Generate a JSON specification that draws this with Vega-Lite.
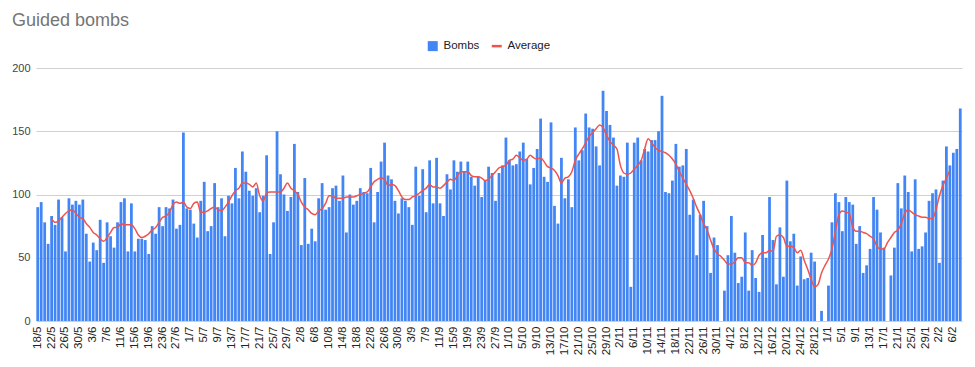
{
"$schema": "https://vega.github.io/schema/vega-lite/v6.json",
"width": 926, "height": 253,
"autosize": {"type": "none"},
"padding": {"left": 36, "top": 68, "right": 13, "bottom": 46},
"title": {"text": "Guided bombs", "anchor": "start", "frame": "group", "fontSize": 18, "fontWeight": "normal", "font": "Liberation Sans", "color": "#757575", "dx": -24, "offset": 10},
"config": {"view": {"stroke": null}, "font": "Liberation Sans"},
"data": {"values": [
{"d":"18/5","b":90},{"d":"19/5","b":94},{"d":"20/5","b":78},{"d":"21/5","b":61},
{"d":"22/5","b":83,"a":81},{"d":"23/5","b":76,"a":78},{"d":"24/5","b":96,"a":79},{"d":"25/5","b":82,"a":82},{"d":"26/5","b":55,"a":85},{"d":"27/5","b":97,"a":87},{"d":"28/5","b":92,"a":88},{"d":"29/5","b":95,"a":85},{"d":"30/5","b":92,"a":82},{"d":"31/5","b":96,"a":81},
{"d":"1/6","b":69,"a":77},{"d":"2/6","b":47,"a":74},{"d":"3/6","b":62,"a":70},{"d":"4/6","b":56,"a":68},{"d":"5/6","b":80,"a":65},{"d":"6/6","b":46,"a":63},{"d":"7/6","b":78,"a":66},{"d":"8/6","b":67,"a":70},{"d":"9/6","b":58,"a":74},{"d":"10/6","b":78,"a":74},
{"d":"11/6","b":94,"a":77},{"d":"12/6","b":97,"a":76},{"d":"13/6","b":55,"a":76},{"d":"14/6","b":93,"a":76},{"d":"15/6","b":55,"a":73},{"d":"16/6","b":65,"a":68},{"d":"17/6","b":65,"a":66},{"d":"18/6","b":64,"a":67},{"d":"19/6","b":53,"a":69},{"d":"20/6","b":75,"a":72},
{"d":"21/6","b":69,"a":74},{"d":"22/6","b":90,"a":78},{"d":"23/6","b":75,"a":82},{"d":"24/6","b":90,"a":83},{"d":"25/6","b":89,"a":86},{"d":"26/6","b":96,"a":92},{"d":"27/6","b":73,"a":94},{"d":"28/6","b":76,"a":93},{"d":"29/6","b":149,"a":94},{"d":"30/6","b":89,"a":90},
{"d":"1/7","b":88,"a":89},{"d":"2/7","b":77,"a":93},{"d":"3/7","b":66,"a":94},{"d":"4/7","b":95,"a":86},{"d":"5/7","b":110,"a":86},{"d":"6/7","b":71,"a":87},{"d":"7/7","b":75,"a":89},{"d":"8/7","b":109,"a":90},{"d":"9/7","b":90,"a":88},{"d":"10/7","b":97,"a":87},
{"d":"11/7","b":67,"a":90},{"d":"12/7","b":99,"a":94},{"d":"13/7","b":93,"a":99},{"d":"14/7","b":121,"a":103},{"d":"15/7","b":97,"a":105},{"d":"16/7","b":134,"a":109},{"d":"17/7","b":118,"a":109},{"d":"18/7","b":103,"a":108},{"d":"19/7","b":99,"a":106},{"d":"20/7","b":105,"a":109},
{"d":"21/7","b":86,"a":99},{"d":"22/7","b":99,"a":95},{"d":"23/7","b":131,"a":101},{"d":"24/7","b":53,"a":102},{"d":"25/7","b":78,"a":102},{"d":"26/7","b":150,"a":102},{"d":"27/7","b":116,"a":102},{"d":"28/7","b":100,"a":105},{"d":"29/7","b":87,"a":109},{"d":"30/7","b":98,"a":105},{"d":"31/7","b":140,"a":103},
{"d":"1/8","b":102,"a":100},{"d":"2/8","b":60,"a":94},{"d":"3/8","b":113,"a":90},{"d":"4/8","b":61,"a":88},{"d":"5/8","b":73,"a":85},{"d":"6/8","b":63,"a":84},{"d":"7/8","b":97,"a":87},{"d":"8/8","b":109,"a":89},{"d":"9/8","b":88,"a":93},{"d":"10/8","b":90,"a":99},
{"d":"11/8","b":105,"a":99},{"d":"12/8","b":107,"a":97},{"d":"13/8","b":95,"a":97},{"d":"14/8","b":115,"a":97},{"d":"15/8","b":70,"a":98},{"d":"16/8","b":100,"a":98},{"d":"17/8","b":92,"a":98},{"d":"18/8","b":95,"a":99},{"d":"19/8","b":105,"a":100},{"d":"20/8","b":102,"a":101},
{"d":"21/8","b":101,"a":102},{"d":"22/8","b":121,"a":106},{"d":"23/8","b":78,"a":110},{"d":"24/8","b":102,"a":112},{"d":"25/8","b":126,"a":113},{"d":"26/8","b":141,"a":112},{"d":"27/8","b":115,"a":107},{"d":"28/8","b":112,"a":108},{"d":"29/8","b":95,"a":107},{"d":"30/8","b":85,"a":103},{"d":"31/8","b":97,"a":98},
{"d":"1/9","b":95,"a":96},{"d":"2/9","b":90,"a":96},{"d":"3/9","b":76,"a":98},{"d":"4/9","b":122,"a":99},{"d":"5/9","b":99,"a":101},{"d":"6/9","b":120,"a":103},{"d":"7/9","b":86,"a":105},{"d":"8/9","b":127,"a":108},{"d":"9/9","b":93,"a":106},{"d":"10/9","b":129,"a":106},
{"d":"11/9","b":93,"a":105},{"d":"12/9","b":83,"a":107},{"d":"13/9","b":116,"a":110},{"d":"14/9","b":104,"a":112},{"d":"15/9","b":127,"a":111},{"d":"16/9","b":118,"a":115},{"d":"17/9","b":126,"a":118},{"d":"18/9","b":118,"a":118},{"d":"19/9","b":126,"a":118},{"d":"20/9","b":114,"a":115},
{"d":"21/9","b":107,"a":114},{"d":"22/9","b":114,"a":114},{"d":"23/9","b":98,"a":113},{"d":"24/9","b":111,"a":111},{"d":"25/9","b":122,"a":112},{"d":"26/9","b":117,"a":115},{"d":"27/9","b":95,"a":118},{"d":"28/9","b":117,"a":121},{"d":"29/9","b":123,"a":122},{"d":"30/9","b":145,"a":123},
{"d":"1/10","b":127,"a":127},{"d":"2/10","b":123,"a":128},{"d":"3/10","b":124,"a":131},{"d":"4/10","b":134,"a":129},{"d":"5/10","b":141,"a":127},{"d":"6/10","b":128,"a":128},{"d":"7/10","b":108,"a":131},{"d":"8/10","b":121,"a":129},{"d":"9/10","b":136,"a":128},{"d":"10/10","b":160,"a":129},
{"d":"11/10","b":114,"a":126},{"d":"12/10","b":110,"a":122},{"d":"13/10","b":157,"a":121},{"d":"14/10","b":91,"a":119},{"d":"15/10","b":77,"a":115},{"d":"16/10","b":129,"a":109},{"d":"17/10","b":97,"a":113},{"d":"18/10","b":112,"a":114},{"d":"19/10","b":90,"a":118},{"d":"20/10","b":153,"a":127},
{"d":"21/10","b":127,"a":132},{"d":"22/10","b":135,"a":136},{"d":"23/10","b":164,"a":141},{"d":"24/10","b":153,"a":146},{"d":"25/10","b":152,"a":149},{"d":"26/10","b":138,"a":152},{"d":"27/10","b":123,"a":155},{"d":"28/10","b":182,"a":153},{"d":"29/10","b":166,"a":147},{"d":"30/10","b":155,"a":142},{"d":"31/10","b":145,"a":139},
{"d":"1/11","b":107,"a":136},{"d":"2/11","b":115,"a":123},{"d":"3/11","b":114,"a":117},{"d":"4/11","b":141,"a":116},{"d":"5/11","b":27,"a":117},{"d":"6/11","b":141,"a":120},{"d":"7/11","b":145,"a":123},{"d":"8/11","b":127,"a":127},{"d":"9/11","b":136,"a":136},{"d":"10/11","b":134,"a":144},
{"d":"11/11","b":143,"a":141},{"d":"12/11","b":143,"a":137},{"d":"13/11","b":150,"a":135},{"d":"14/11","b":178,"a":134},{"d":"15/11","b":102,"a":133},{"d":"16/11","b":101,"a":131},{"d":"17/11","b":111,"a":128},{"d":"18/11","b":140,"a":124},{"d":"19/11","b":122,"a":118},{"d":"20/11","b":123,"a":113},
{"d":"21/11","b":136,"a":108},{"d":"22/11","b":84,"a":103},{"d":"23/11","b":96,"a":97},{"d":"24/11","b":52,"a":90},{"d":"25/11","b":84,"a":84},{"d":"26/11","b":95,"a":77},{"d":"27/11","b":75,"a":72},{"d":"28/11","b":38,"a":64},{"d":"29/11","b":66,"a":57},{"d":"30/11","b":60,"a":53},
{"d":"1/12","b":0,"a":51},{"d":"2/12","b":24,"a":48},{"d":"3/12","b":52,"a":45},{"d":"4/12","b":83,"a":45},{"d":"5/12","b":54,"a":47},{"d":"6/12","b":30,"a":50},{"d":"7/12","b":35,"a":50},{"d":"8/12","b":70,"a":46},{"d":"9/12","b":24,"a":46},{"d":"10/12","b":56,"a":44},
{"d":"11/12","b":34,"a":46},{"d":"12/12","b":23,"a":52},{"d":"13/12","b":68,"a":54},{"d":"14/12","b":50,"a":54},{"d":"15/12","b":98,"a":56},{"d":"16/12","b":64,"a":55},{"d":"17/12","b":29,"a":67},{"d":"18/12","b":74,"a":68},{"d":"19/12","b":35,"a":66},{"d":"20/12","b":111,"a":59},
{"d":"21/12","b":63,"a":59},{"d":"22/12","b":69,"a":58},{"d":"23/12","b":28,"a":54},{"d":"24/12","b":51,"a":56},{"d":"25/12","b":33,"a":48},{"d":"26/12","b":34,"a":41},{"d":"27/12","b":54,"a":33},{"d":"28/12","b":47,"a":27},{"d":"29/12","b":0,"a":29},{"d":"30/12","b":8,"a":38},{"d":"31/12","b":0,"a":44},
{"d":"1/1","b":28,"a":49},{"d":"2/1","b":78,"a":57},{"d":"3/1","b":101,"a":71},{"d":"4/1","b":94,"a":84},{"d":"5/1","b":71,"a":87},{"d":"6/1","b":98,"a":86},{"d":"7/1","b":94,"a":85},{"d":"8/1","b":92,"a":74},{"d":"9/1","b":61,"a":71},{"d":"10/1","b":75,"a":71},
{"d":"11/1","b":38,"a":70},{"d":"12/1","b":44,"a":69},{"d":"13/1","b":57,"a":67},{"d":"14/1","b":98,"a":65},{"d":"15/1","b":88,"a":59},{"d":"16/1","b":70,"a":57},{"d":"17/1","b":58,"a":57},{"d":"18/1","b":0,"a":62},{"d":"19/1","b":36,"a":66},{"d":"20/1","b":58,"a":70},
{"d":"21/1","b":109,"a":72},{"d":"22/1","b":89,"a":77},{"d":"23/1","b":115,"a":85},{"d":"24/1","b":102,"a":88},{"d":"25/1","b":55,"a":86},{"d":"26/1","b":112,"a":84},{"d":"27/1","b":57,"a":83},{"d":"28/1","b":59,"a":82},{"d":"29/1","b":70,"a":82},{"d":"30/1","b":95,"a":81},{"d":"31/1","b":101,"a":81},
{"d":"1/2","b":104,"a":88},{"d":"2/2","b":46,"a":99},{"d":"3/2","b":111,"a":107},{"d":"4/2","b":138,"a":113},{"d":"5/2","b":123,"a":119},{"d":"6/2","b":133},{"d":"7/2","b":136},{"d":"8/2","b":168}
]},
"encoding": {
  "x": {"field": "d", "type": "ordinal", "sort": null, "title": null,
    "scale": {"paddingInner": 0.2, "paddingOuter": 0.1},
    "axis": {"values": ["18/5","22/5","26/5","30/5","3/6","7/6","11/6","15/6","19/6","23/6","27/6","1/7","5/7","9/7","13/7","17/7","21/7","25/7","29/7","2/8","6/8","10/8","14/8","18/8","22/8","26/8","30/8","3/9","7/9","11/9","15/9","19/9","23/9","27/9","1/10","5/10","9/10","13/10","17/10","21/10","25/10","29/10","2/11","6/11","10/11","14/11","18/11","22/11","26/11","30/11","4/12","8/12","12/12","16/12","20/12","24/12","28/12","1/1","5/1","9/1","13/1","17/1","21/1","25/1","29/1","2/2","6/2"],
      "labelAngle": -90, "labelFontSize": 11.5, "labelColor": "#222222", "labelFont": "Liberation Sans", "ticks": false, "domain": false, "labelPadding": 5, "grid": false}}
},
"layer": [
  {"mark": {"type": "bar"},
   "encoding": {
     "y": {"field": "b", "type": "quantitative", "title": null,
       "scale": {"domain": [0, 200]},
       "axis": {"values": [0, 50, 100, 150, 200], "labelFontSize": 11, "labelColor": "#444444", "labelFont": "Liberation Sans", "ticks": false, "domain": false, "gridColor": "#d0d0d0", "labelPadding": 6}},
     "color": {"datum": "Bombs", "type": "nominal",
       "scale": {"domain": ["Bombs", "Average"], "range": ["#4285F4", "#EE5350"]},
       "legend": {"orient": "none", "legendX": 391, "legendY": -28, "direction": "horizontal", "title": null, "symbolSize": 100, "labelFontSize": 11.5, "labelColor": "#222222", "labelFont": "Liberation Sans", "columnPadding": 11, "labelOffset": 5, "padding": 0, "symbolStrokeWidth": 0,
         "encode": {"symbols": {"update": {"shape": {"signal": "datum.value === 'Average' ? 'M-1,-0.25L1,-0.25L1,0.25L-1,0.25Z' : 'square'"}}}}}}
   }},
  {"mark": {"type": "line", "strokeWidth": 1.5, "interpolate": "monotone"},
   "encoding": {
     "y": {"field": "a", "type": "quantitative"},
     "color": {"datum": "Average", "type": "nominal"}
   }}
]
}
